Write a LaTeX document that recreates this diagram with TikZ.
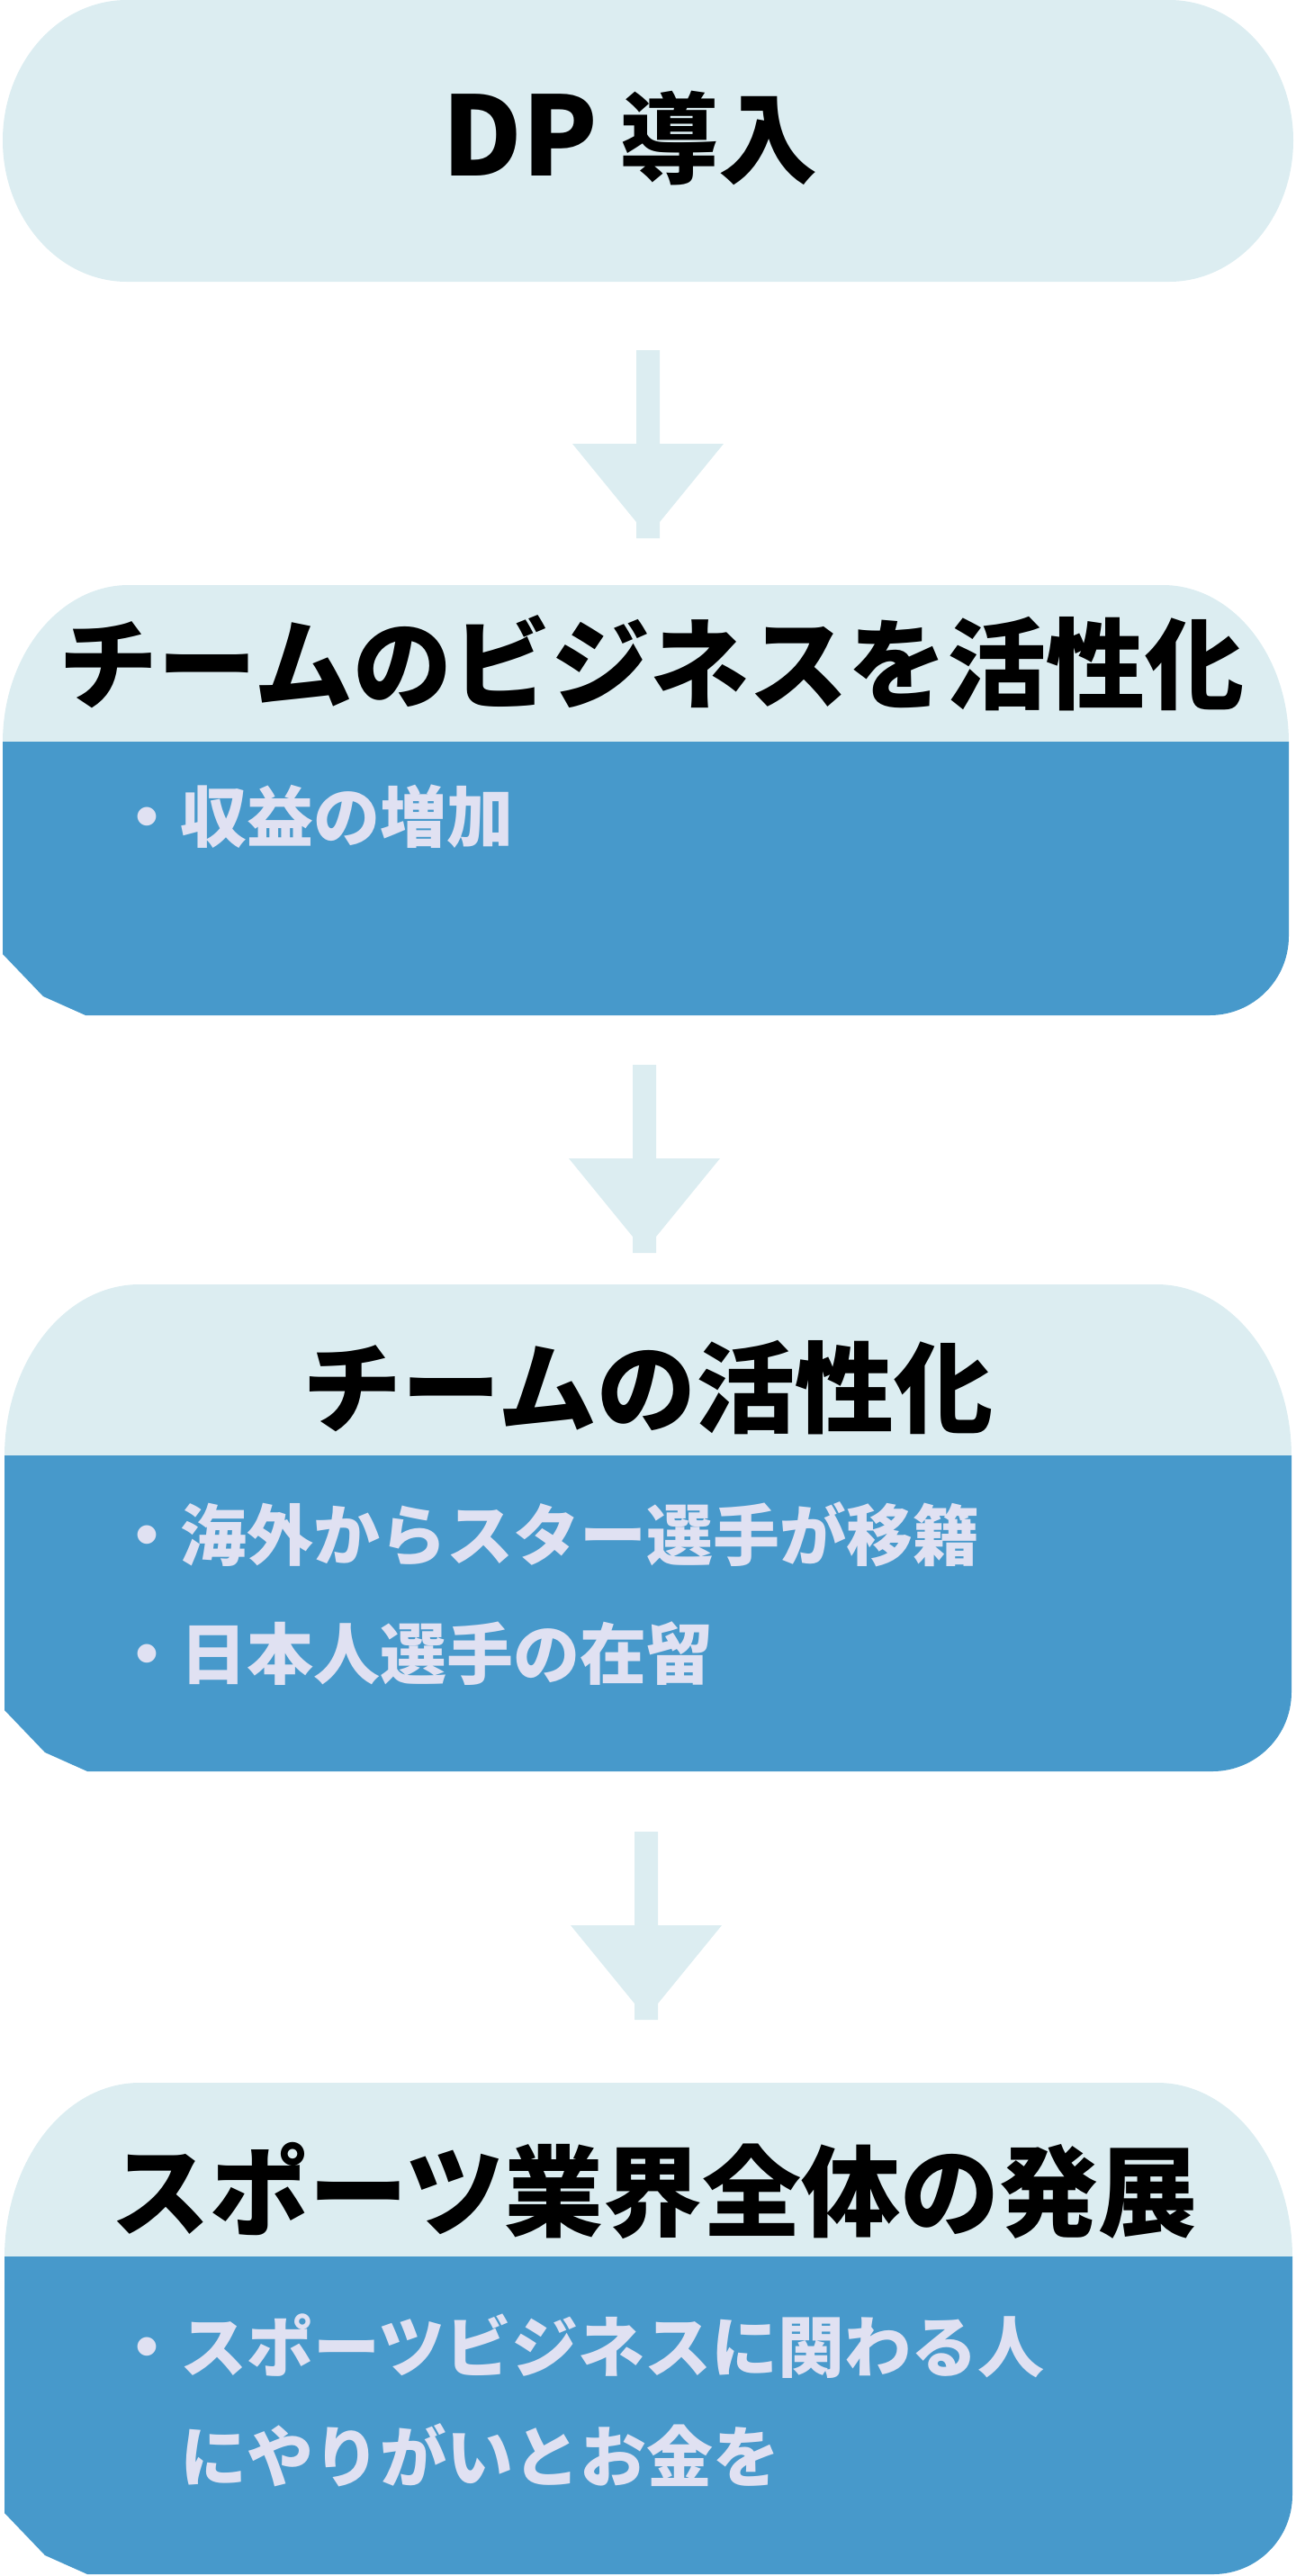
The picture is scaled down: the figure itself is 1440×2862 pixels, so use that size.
\documentclass[tikz,border=0pt]{standalone}
\usepackage{fontspec}
\newfontfamily\jp{Noto Sans CJK JP Black}
\definecolor{lightfill}{RGB}{220,237,241}
\definecolor{darkfill}{RGB}{71,153,203}
\definecolor{bullettext}{RGB}{224,225,242}
\newcommand\flowbox[7]{%
 \fill[lightfill] (#1,#4) .. controls (#1,{#4-0.5523*#7}) and ({#1+0.4477*#6},#3) .. ({#1+#6},#3) -- ({#2-#6},#3) .. controls ({#2-0.4477*#6},#3) and (#2,{#4-0.5523*#7}) .. (#2,#4) -- cycle;
 \fill[darkfill] (#1,{#4-1}) -- (#2,{#4-1}) -- (#2,{#5-88}) .. controls (#2,{#5-0.4477*88}) and ({#2-0.4477*88},#5) .. ({#2-88},#5) -- ({#1+92},#5) -- ({#1+45},{#5-21}) -- (#1,{#5-68}) -- cycle;
}
\tikzset{
 titletext/.style={font=\jp\fontsize{110}{120}\selectfont, text=black, inner sep=0pt, anchor=base},
 bullettxt/.style={font=\jp\fontsize{74}{90}\selectfont, text=bullettext, inner sep=0pt, anchor=base west},
 downarrow/.pic={\fill[lightfill] (-13,0) -- (13,0) -- (13,104) -- (84,104) -- (13,191) -- (13,209) -- (-13,209) -- (-13,191) -- (-84,104) -- (-13,104) -- cycle;}
}
\begin{document}
\begin{tikzpicture}[x=1pt,y=-1pt]
\useasboundingbox (0,0) rectangle (1440,2862);
% top box
\fill[lightfill] (3,156) .. controls (3,{156-0.5523*156}) and ({3+0.4477*138},0) .. (141,0) -- (1299,0) .. controls ({1437-0.4477*138},0) and (1437,{156-0.5523*156}) .. (1437,156) .. controls (1437,{156+0.5523*156}) and ({1437-0.4477*138},313) .. (1299,313) -- (141,313) .. controls ({3+0.4477*138},313) and (3,{156+0.5523*156}) .. (3,156) -- cycle;
\node[titletext] (t1) at (700,195) {{\fontsize{122}{130}\selectfont DP}\hspace{24pt}導入};
% arrows
\coordinate (a1) at (720,389);
\pic at (a1) {downarrow};
\coordinate (a2) at (716,1183);
\pic at (a2) {downarrow};
\coordinate (a3) at (718,2035);
\pic at (a3) {downarrow};
% box 2
\flowbox{3}{1432}{650}{825}{1128}{140}{175}
\node[titletext] (t2) at (724,779) {チームのビジネスを活性化};
\node[bullettxt] (b2) at (126,935) {・収益の増加};
% box 3
\flowbox{5}{1435}{1427}{1618}{1968}{150}{191}
\node[titletext] (t3) at (720,1583) {チームの活性化};
\node[bullettxt] (b3a) at (126,1733) {・海外からスター選手が移籍};
\node[bullettxt] (b3b) at (126,1865) {・日本人選手の在留};
% box 4
\flowbox{5}{1436}{2314}{2508}{2860}{150}{194}
\node[titletext] (t4) at (727,2476) {スポーツ業界全体の発展};
\node[bullettxt] (b4a) at (126,2635) {・スポーツビジネスに関わる人};
\node[bullettxt] (b4b) at (200,2757) {にやりがいとお金を};
\end{tikzpicture}
\end{document}
